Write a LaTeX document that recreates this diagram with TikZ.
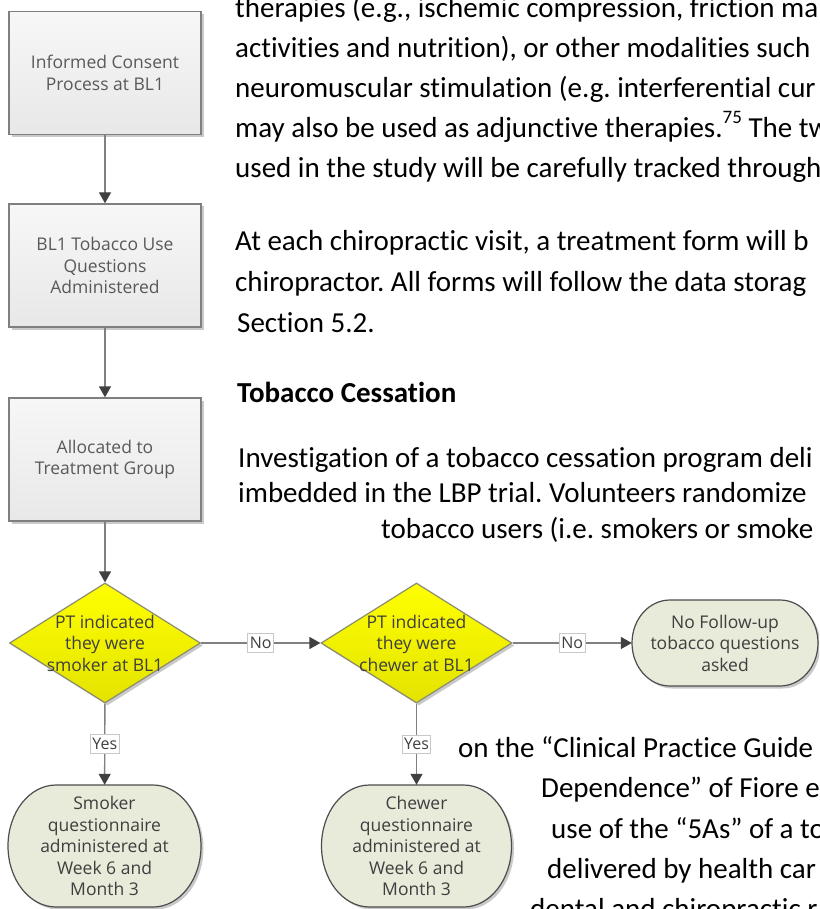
\documentclass[tikz,border=0pt]{standalone}
\usepackage{fontspec}
\setmainfont{Carlito}[Ligatures=CommonOff]
\newfontfamily\chartfont{Open Sans}
\usetikzlibrary{shapes.geometric,arrows.meta,shadows}
\definecolor{boxborder}{HTML}{7F7F7F}
\definecolor{boxtop}{HTML}{F7F7F7}
\definecolor{boxbot}{HTML}{E8E8E8}
\definecolor{chartgrey}{HTML}{595959}
\definecolor{chartdark}{HTML}{3F3F3F}
\definecolor{yellowtop}{HTML}{FFFF00}
\definecolor{yellowbot}{HTML}{E3E300}
\definecolor{diaborder}{HTML}{8C8C6E}
\definecolor{termfill}{HTML}{E8EADA}
\definecolor{termborder}{HTML}{4D4D4D}
\definecolor{linegrey}{HTML}{808080}
\definecolor{headgrey}{HTML}{404040}
\definecolor{labelborder}{HTML}{C8C8C8}
\newcommand\termpath[5]{%
  \path[termshape] ({#1+#5},#2) -- ({#3-#5},#2)
    arc[start angle=-90,end angle=90,x radius=#5,y radius={(#4-#2)/2}]
    -- ({#1+#5},#4)
    arc[start angle=90,end angle=270,x radius=#5,y radius={(#4-#2)/2}] -- cycle;}
\tikzset{
  chartshadow/.style={drop shadow={shadow xshift=2.5pt, shadow yshift=-2.5pt, opacity=0.35, fill=black!60}},
  chartfontstyle/.style={font=\chartfont\fontsize{17.5}{21.5}\selectfont},
  procbox/.style={rectangle, draw=boxborder, line width=1.4pt, top color=boxtop, bottom color=boxbot,
    minimum width=192pt, minimum height=123pt, inner sep=0pt, align=center, text=chartgrey,
    chartfontstyle, chartshadow},
  decision/.style={diamond, draw=diaborder, line width=1.2pt, top color=yellowtop, bottom color=yellowbot,
    minimum width=191pt, minimum height=120pt, inner sep=0pt, chartshadow},
  dectext/.style={align=center, inner sep=0pt, text=chartdark, chartfontstyle},
  termbox/.style={rectangle, inner sep=0pt, align=center, text=chartdark, chartfontstyle},
  termshape/.style={draw=termborder, line width=1.2pt, fill=termfill, chartshadow},
  flow/.style={draw=linegrey, line width=1.4pt, -{Triangle[width=12pt,length=11pt,color=headgrey]}},
  flowlabel/.style={fill=white, draw=labelborder, line width=0.8pt, inner xsep=2pt, inner ysep=3.5pt,
    text=chartdark, font=\chartfont\fontsize{16}{16}\selectfont},
  body/.style={anchor=base west, inner sep=0pt, font=\fontsize{29}{35}\selectfont\frenchspacing},
}
\begin{document}
\begin{tikzpicture}[x=1pt,y=-1pt]
\path[use as bounding box, clip] (0,0) rectangle (819,909);
\fill[white] (0,0) rectangle (819,909);

% body text
\node[body] (t1) at (235,18) {therapies (e.g., ischemic compression, friction ma};
\node[body] (t2) at (235,58) {activities and nutrition), or other modalities such};
\node[body] (t3) at (235,98) {neuromuscular stimulation (e.g. interferential cur};
\node[body] (t4) at (235,138) {may also be used as adjunctive therapies.\raisebox{0.5em}{\fontsize{19}{19}\selectfont 75} The tw};
\node[body] (t5) at (235,178) {used in the study will be carefully tracked through};
\node[body] (t6) at (235,251) {At each chiropractic visit, a treatment form will b};
\node[body] (t7) at (235,291) {chiropractor. All forms will follow the data storag};
\node[body] (t8) at (237,332) {Section 5.2.};
\node[body] (t9) at (237,402) {\bfseries Tobacco Cessation};
\node[body] (t10) at (238,467) {Investigation of a tobacco cessation program deli};
\node[body] (t11) at (238,502) {imbedded in the LBP trial. Volunteers randomize};
\node[body] (t12) at (381,538) {tobacco users (i.e. smokers or smoke};
\node[body] (t13) at (458,757) {on the “Clinical Practice Guide};
\node[body] (t14) at (541,797) {Dependence” of Fiore e};
\node[body] (t15) at (551,838) {use of the “5As” of a to};
\node[body] (t16) at (547,878) {delivered by health car};
\node[body] (t17) at (530,918) {dental and chiropractic r};

% process boxes
\node[procbox] (consent) at (105,73) {Informed Consent\\Process at BL1};
\node[procbox] (bl1q) at (105,265.5) {BL1 Tobacco Use\\Questions\\Administered};
\node[procbox] (alloc) at (105,459.5) {Allocated to\\Treatment Group};

% decisions
\node[decision] (d1) at (105,643) {};
\node[dectext] (d1t) at (d1.center) {PT indicated\\they were\\smoker at BL1};
\node[decision] (d2) at (416.5,643) {};
\node[dectext] (d2t) at (d2.center) {PT indicated\\they were\\chewer at BL1};

% terminals
\termpath{632}{600}{818}{686}{38}
\node[termbox, minimum width=186pt, minimum height=86pt] (nofollow) at (725,643) {No Follow-up\\tobacco questions\\asked};
\termpath{8}{785}{201}{907}{48}
\node[termbox, minimum width=193pt, minimum height=122pt] (smoker) at (104.5,846) {Smoker\\questionnaire\\administered at\\Week 6 and\\Month 3};
\termpath{321.5}{785}{511.5}{907}{48}
\node[termbox, minimum width=190pt, minimum height=122pt] (chewer) at (416.5,846) {Chewer\\questionnaire\\administered at\\Week 6 and\\Month 3};

% connectors
\draw[flow] (consent) -- (bl1q);
\draw[flow] (bl1q) -- (alloc);
\draw[flow] (alloc) -- (d1);
\draw[flow] (d1) -- node[flowlabel] (no1) {No} (d2);
\draw[flow] (d2) -- node[flowlabel] (no2) {No} (nofollow);
\draw[flow] (d1) -- node[flowlabel] (yes1) {Yes} (smoker);
\draw[flow] (d2) -- node[flowlabel] (yes2) {Yes} (chewer);
\end{tikzpicture}
\end{document}
